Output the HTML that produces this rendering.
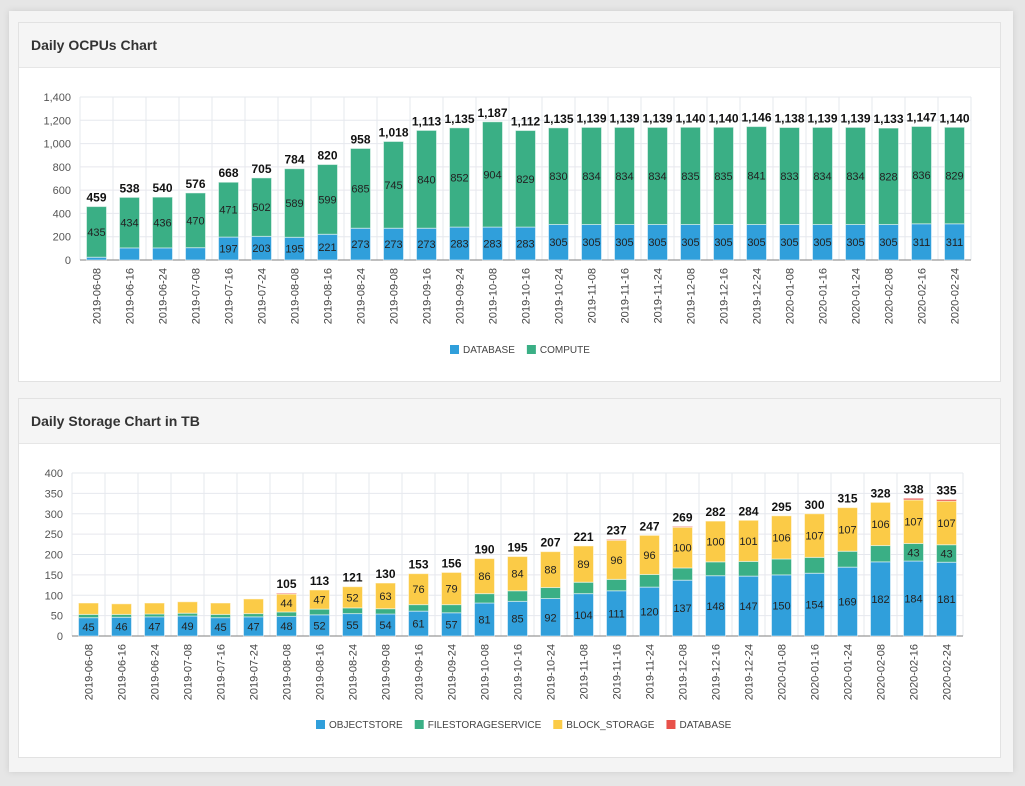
<!DOCTYPE html>
<html><head><meta charset="utf-8"><style>
html,body{margin:0;padding:0;width:1025px;height:786px;overflow:hidden;background:#e6e6e6;font-family:"Liberation Sans",sans-serif}
#frame{position:absolute;left:9px;top:11px;width:1004px;height:761px;background:#f4f4f4;box-shadow:0 0 6px #ccc}
.panel{position:absolute;left:18px;width:983px;height:360px;background:#fff;border:1px solid #e2e2e2;box-sizing:border-box}
.hdr{height:45px;background:#f5f5f5;border-bottom:1px solid #e6e6e6;box-sizing:border-box;padding:14px 0 0 12px;font-size:14px;font-weight:bold;color:#333}
svg{position:absolute;left:0;top:0}
</style></head><body>
<div id="frame"></div>
<div class="panel" style="top:22px"><div class="hdr">Daily OCPUs Chart</div></div>
<div class="panel" style="top:398px"><div class="hdr">Daily Storage Chart in TB</div></div>
<svg id="s" width="1025" height="786"></svg>
<script>
const dates=["2019-06-08","2019-06-16","2019-06-24","2019-07-08","2019-07-16","2019-07-24","2019-08-08","2019-08-16","2019-08-24","2019-09-08","2019-09-16","2019-09-24","2019-10-08","2019-10-16","2019-10-24","2019-11-08","2019-11-16","2019-11-24","2019-12-08","2019-12-16","2019-12-24","2020-01-08","2020-01-16","2020-01-24","2020-02-08","2020-02-16","2020-02-24"];
const cpuDatabase=[24,104,104,106,197,203,195,221,273,273,273,283,283,283,305,305,305,305,305,305,305,305,305,305,305,311,311];
const cpuCompute=[435,434,436,470,471,502,589,599,685,745,840,852,904,829,830,834,834,834,835,835,841,833,834,834,828,836,829];
const cpuTicks=[0,200,400,600,800,1000,1200,1400];
const stObject=[45,46,47,49,45,47,48,52,55,54,61,57,81,85,92,104,111,120,137,148,147,150,154,169,182,184,181];
const stFile=[8,7,7,7,8,8,11,14,14,13,16,20,23,26,27,28,28,31,30,34,36,39,39,39,40,43,43];
const stBlock=[28,26,27,28,28,36,44,47,52,63,76,79,86,84,88,89,96,96,100,100,101,106,107,107,106,107,107];
const stDb=[0,0,0,0,0,0,2,0,0,0,0,0,0,0,0,0,2,0,2,0,0,0,0,0,0,4,4];
const stTicks=[0,50,100,150,200,250,300,350,400];
const stShowTotal=[0,0,0,0,0,0,1,1,1,1,1,1,1,1,1,1,1,1,1,1,1,1,1,1,1,1,1];
const stBlockLabel=[0,0,0,0,0,0,1,1,1,1,1,1,1,1,1,1,1,1,1,1,1,1,1,1,1,1,1];
const stFileLabel=[0,0,0,0,0,0,0,0,0,0,0,0,0,0,0,0,0,0,0,0,0,0,0,0,0,1,1];
const NS="http://www.w3.org/2000/svg",svg=document.getElementById('s');
function mk(t,a,txt){const e=document.createElementNS(NS,t);for(const k in a)e.setAttribute(k,a[k]);if(txt!=null)e.textContent=txt;svg.appendChild(e);return e;}
const fmt=v=>v.toLocaleString('en-US');
function chart(o){
 const n=dates.length,bw=(o.x1-o.x0)/n;
 const X=i=>o.x0+bw*(i+0.5),Y=v=>o.y0-(v/o.max)*(o.y0-o.yTop);
 o.ticks.forEach(t=>{const l=mk('line',{x1:o.x0,x2:o.x1,y1:Y(t),y2:Y(t),stroke:'#e6e8ee','stroke-width':1});
  
  const tx=mk('text',{x:o.x0-9,y:Y(t)+4,'text-anchor':'end','font-size':11,fill:'#555'},o.tf(t));
  });
 for(let i=0;i<=n;i++){const l=mk('line',{x1:o.x0+bw*i,x2:o.x0+bw*i,y1:o.yTop,y2:o.y0,stroke:'#e6e8ee','stroke-width':1});
  }
 const ax=mk('line',{x1:o.x0,x2:o.x1,y1:o.y0,y2:o.y0,stroke:'#999','stroke-width':1.2});
 
 for(let i=0;i<n;i++){
  let acc=0;const cx=X(i);
  o.series.forEach(s=>{const v=s.data[i];if(v<=0)return;
   const r=mk('rect',{x:cx-10,y:Y(acc+v),width:20,height:Y(acc)-Y(acc+v),fill:s.color,stroke:'#fff','stroke-opacity':0.5,'stroke-width':1});
   
   if(s.label(i)){const t=mk('text',{x:cx,y:(Y(acc)+Y(acc+v))/2+4,'text-anchor':'middle','font-size':11,fill:'#222'},v);
    }
   acc+=v;});
  if(o.showTotal(i)){const t=mk('text',{x:cx,y:Y(acc)-5,'text-anchor':'middle','font-size':12,'font-weight':'bold',fill:'#111'},fmt(acc));
   }
  const xl=mk('text',{x:0,y:0,'text-anchor':'end','font-size':11,fill:'#444',transform:`translate(${cx+4},${o.y0+8}) rotate(-90)`},dates[i]);
  
 }
 let lx=o.legX;
 o.series.forEach(s=>{const r=mk('rect',{x:lx,y:o.legY-8,width:9,height:9,fill:s.color});
  
  const t=mk('text',{x:lx+13,y:o.legY,'font-size':10,fill:'#444'},s.name);
  
  lx+=13+t.getComputedTextLength()+12;});
}
chart({x0:80,x1:971,y0:260,yTop:97,max:1400,ticks:cpuTicks,tf:fmt,legX:450,legY:353,
 showTotal:()=>true,
 series:[{name:'DATABASE',data:cpuDatabase,color:'#309fdb',label:i=>cpuDatabase[i]>150},
         {name:'COMPUTE',data:cpuCompute,color:'#3aaf85',label:()=>true}]});
chart({x0:72,x1:963,y0:636,yTop:473,max:400,ticks:stTicks,tf:v=>String(v),legX:316,legY:728,
 showTotal:i=>stShowTotal[i],
 series:[{name:'OBJECTSTORE',data:stObject,color:'#309fdb',label:()=>true},
         {name:'FILESTORAGESERVICE',data:stFile,color:'#3aaf85',label:i=>stFileLabel[i]},
         {name:'BLOCK_STORAGE',data:stBlock,color:'#fbcb47',label:i=>stBlockLabel[i]},
         {name:'DATABASE',data:stDb,color:'#e8514a',label:()=>false}]});
</script>
</body></html>
